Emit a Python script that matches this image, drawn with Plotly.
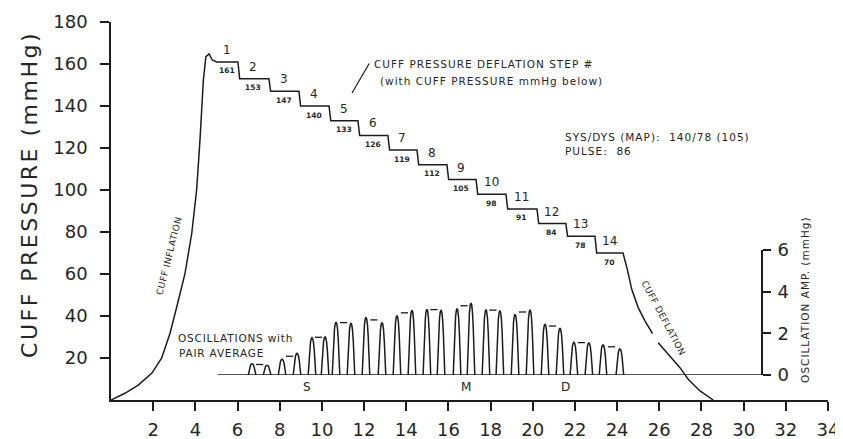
import plotly.graph_objects as go

# ---------------- data ----------------
x_ticks = [2, 4, 6, 8, 10, 12, 14, 16, 18, 20, 22, 24, 26, 28, 30, 32, 34]
y_ticks = [20, 40, 60, 80, 100, 120, 140, 160, 180]
osc_ticks = [0, 2, 4, 6]

# cuff inflation (time, mmHg)
inflation_t = [0, 0.66, 1.29, 1.93, 2.40, 2.80, 3.12, 3.51, 3.83, 4.06, 4.22, 4.38, 4.50, 4.65, 4.80]
inflation_p = [0, 3.2, 7.1, 12.7, 19.9, 31.8, 44.4, 60.3, 79.4, 100, 123.8, 152.4, 163.5, 164.8, 161.9]

# deflation steps
step_numbers = [1, 2, 3, 4, 5, 6, 7, 8, 9, 10, 11, 12, 13, 14]
step_pressure = [161, 153, 147, 140, 133, 126, 119, 112, 105, 98, 91, 84, 78, 70]
step_edges = [5.01, 6.02, 7.49, 8.91, 10.34, 11.71, 13.13, 14.51, 15.93, 17.31, 18.73, 20.20, 21.57, 22.95, 24.28]

# cuff deflation (None = break in the trace under the label)
deflation_t = [24.40, 24.50, 24.69, 25.0, 25.32, 25.68, None, 25.95, 26.5, 26.98, 27.37, 27.93, 28.56]
deflation_p = [66.0, 61.5, 52.8, 44.0, 37.7, 31.6, None, 27.3, 21.0, 15.4, 9.9, 4.3, 0]

# oscillation pairs (time, amplitude mmHg)
pulse_t1 = [6.69, 8.11, 9.53, 10.67, 12.09, 13.56, 14.98, 16.41, 17.78, 19.16, 20.58, 21.95, 23.33]
pulse_a1 = [0.54, 0.76, 1.79, 2.54, 2.77, 2.86, 3.16, 3.19, 3.14, 2.92, 2.45, 1.57, 1.45]
pulse_t2 = [7.40, 8.82, 10.15, 11.38, 12.85, 14.27, 15.65, 17.07, 18.44, 19.87, 21.29, 22.66, 24.13]
pulse_a2 = [0.47, 1.04, 1.83, 2.49, 2.52, 3.11, 3.12, 3.46, 3.09, 3.13, 2.25, 1.54, 1.26]
osc_baseline_t = [5.07, 30.87]

smd_labels = ["S", "M", "D"]
smd_t = [9.29, 16.83, 21.57]

# ---------------- style ----------------
FONT = "DejaVu Sans"
INK = "#1c1c1c"
TXT = "#262626"
LW = 1.5
DROP = 0.08            # width of each deflation drop
PULSE_HALF = 0.18      # half width of an oscillation pulse
PULSE_U = [-1, -0.8, -0.6, -0.4, -0.2, 0, 0.2, 0.4, 0.6, 0.8, 1]
PULSE_H = [0, 0.35, 0.66, 0.87, 0.97, 1, 0.97, 0.87, 0.66, 0.35, 0]
AVG_HALF = 0.17


def spaced(txt, px=1):
    return '<span style="letter-spacing:%spx">%s</span>' % (px, txt)


fig = go.Figure()

# ---- cuff pressure curve ----
pt = list(inflation_t)
pp = list(inflation_p)
for k, v in enumerate(step_pressure):
    s = step_edges[k] + (DROP if k > 0 else 0)
    e = step_edges[k + 1]
    pt += [s, e]
    pp += [v, v]
pt += deflation_t
pp += deflation_p
fig.add_trace(go.Scatter(x=pt, y=pp, mode="lines", line=dict(color=INK, width=LW),
                         hoverinfo="skip", connectgaps=False))

# ---- oscillation pulses ----
ox, oy = [], []
for tt, aa in list(zip(pulse_t1, pulse_a1)) + list(zip(pulse_t2, pulse_a2)):
    ox += [tt + u * PULSE_HALF for u in PULSE_U] + [None]
    oy += [aa * h for h in PULSE_H] + [None]
fig.add_trace(go.Scatter(x=ox, y=oy, yaxis="y2", mode="lines",
                         line=dict(color=INK, width=LW), hoverinfo="skip"))

# pair averages
ax_, ay_ = [], []
for t1, a1, t2, a2 in zip(pulse_t1, pulse_a1, pulse_t2, pulse_a2):
    m = (t1 + t2) / 2
    avg = (a1 + a2) / 2
    ax_ += [m - AVG_HALF, m + AVG_HALF, None]
    ay_ += [avg, avg, None]
fig.add_trace(go.Scatter(x=ax_, y=ay_, yaxis="y2", mode="lines",
                         line=dict(color=INK, width=1.3), hoverinfo="skip"))

# oscillation baseline
fig.add_trace(go.Scatter(x=osc_baseline_t, y=[0, 0], yaxis="y2", mode="lines",
                         line=dict(color=INK, width=LW), hoverinfo="skip"))

# ---- annotations ----
ann = []
for k, (n, v) in enumerate(zip(step_numbers, step_pressure)):
    c = (step_edges[k] + step_edges[k + 1]) / 2
    ann.append(dict(x=c, y=v, xref="x", yref="y", text=str(n), showarrow=False,
                    yshift=12, font=dict(family=FONT, size=12, color=TXT)))
    ann.append(dict(x=c, y=v, xref="x", yref="y", text="<b>%d</b>" % v, showarrow=False,
                    yshift=-9, font=dict(family=FONT, size=7.5, color=TXT)))

txt_font = dict(family=FONT, size=10.5, color=TXT)
ann += [
    dict(x=12.38, y=160, xref="x", yref="y", xanchor="left", showarrow=False,
         text=spaced("CUFF PRESSURE DEFLATION STEP #", 1), font=txt_font),
    dict(x=12.66, y=152, xref="x", yref="y", xanchor="left", showarrow=False,
         text=spaced("(with CUFF PRESSURE mmHg below)", 1), font=txt_font),
    dict(x=11.43, y=146.2, xref="x", yref="y", text="", showarrow=True, arrowhead=0,
         arrowwidth=1.2, arrowcolor=INK, ax=18, ay=-31),
    dict(x=21.43, y=125.2, xref="x", yref="y", xanchor="left", showarrow=False,
         text=spaced("SYS/DYS (MAP):  140/78 (105)", 1), font=txt_font),
    dict(x=21.43, y=118.6, xref="x", yref="y", xanchor="left", showarrow=False,
         text=spaced("PULSE:  86", 1), font=txt_font),
    dict(x=3.08, y=29.5, xref="x", yref="y", xanchor="left", showarrow=False,
         text=spaced("OSCILLATIONS with", 0.8), font=txt_font),
    dict(x=3.13, y=22.4, xref="x", yref="y", xanchor="left", showarrow=False,
         text=spaced("PAIR AVERAGE", 0.8), font=txt_font),
    dict(x=2.75, y=68.6, xref="x", yref="y", showarrow=False, textangle=-76,
         text=spaced("CUFF INFLATION", 0.5), font=dict(family=FONT, size=9, color=TXT)),
    dict(x=26.2, y=39.1, xref="x", yref="y", showarrow=False, textangle=62,
         text=spaced("CUFF DEFLATION", 0.5), font=dict(family=FONT, size=9, color=TXT)),
    dict(x=-0.113, y=0.545, xref="paper", yref="paper", xanchor="center", yanchor="middle",
         showarrow=False, textangle=-90,
         text=spaced("CUFF PRESSURE (mmHg)", 2.5), font=dict(family=FONT, size=22, color=TXT)),
    dict(x=0.968, y=0.265, xref="paper", yref="paper", xanchor="center", yanchor="middle",
         showarrow=False, textangle=-90,
         text=spaced("OSCILLATION AMP. (mmHg)", 1), font=dict(family=FONT, size=10.5, color=TXT)),
]
for lab, tt in zip(smd_labels, smd_t):
    ann.append(dict(x=tt, y=0, xref="x", yref="y2", text=lab, showarrow=False,
                    yshift=-12, font=dict(family=FONT, size=12, color=TXT)))

axis_common = dict(showline=True, linecolor=INK, linewidth=1.6, ticks="outside",
                   ticklen=9, tickwidth=1.5, tickcolor=INK, showgrid=False,
                   zeroline=False, automargin=False,
                   tickfont=dict(family=FONT, size=18, color=TXT))

# page body adds an 8px offset, so the figure is 8px smaller on each side
fig.update_layout(
    width=835, height=431,
    margin=dict(l=103, r=15, t=14, b=39, autoexpand=False),
    paper_bgcolor="white", plot_bgcolor="rgba(0,0,0,0)",
    showlegend=False,
    annotations=ann,
    xaxis=dict(range=[0, 34], tickvals=x_ticks, anchor="y", ticklabelstandoff=4, **axis_common),
    yaxis=dict(range=[0, 180], tickvals=y_ticks, ticklabelstandoff=9, **axis_common),
    yaxis2=dict(range=[0, 6], tickvals=osc_ticks, domain=[0.0661, 0.3968],
                anchor="free", position=0.908, side="right", ticklabelstandoff=3,
                **dict(axis_common, ticklen=8)),
)

fig.write_html("out.html")
